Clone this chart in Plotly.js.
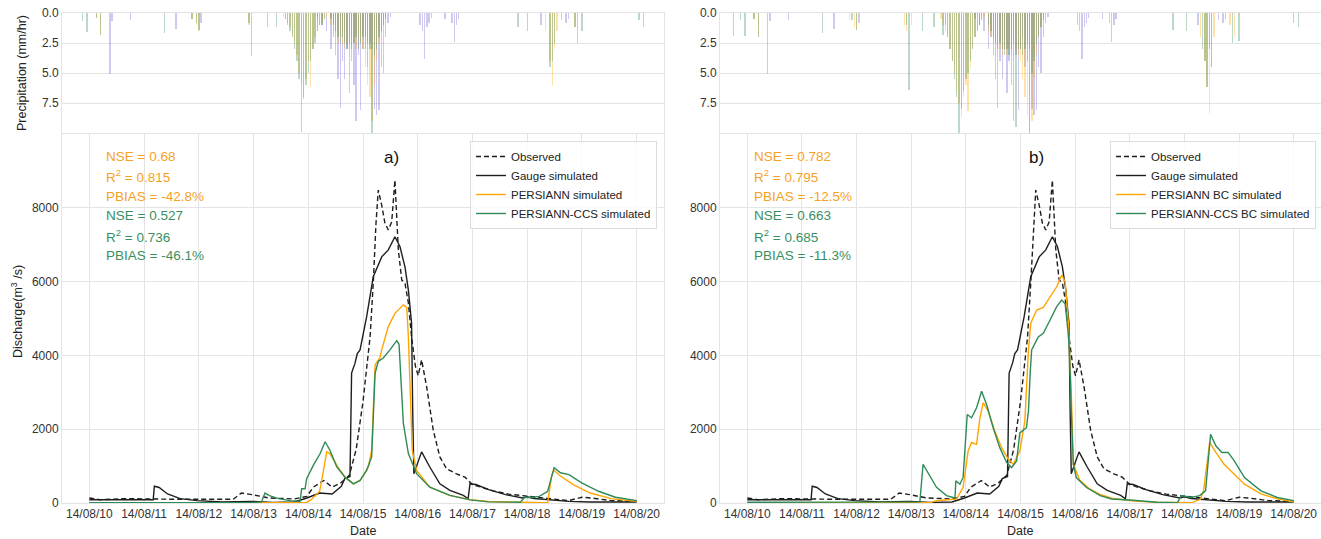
<!DOCTYPE html>
<html><head><meta charset="utf-8">
<script src="https://cdn.plot.ly/plotly-3.0.1.min.js"></script>
<style>html,body{margin:0;padding:0;background:#fff}#chart{width:1321px;height:539px}</style>
</head><body><div id="chart"></div>
<script>
// ---------- discharge data (hours since 2014-08-10 00:00, m3/s) ----------
const obsH = [0,4.6,15.8,27.8,39.8,63,66.7,71.3,78.8,89.9,95.4,98.2,102.8,106.5,110.3,114,117,120,122.3,123.1,124.5,125.7,126.7,128.2,129.6,131.1,132.6,134,135.5,137,138.4,139.9,141.3,143,144.2,145.7,147.9,150.8,153.7,156.6,161,164.7,168,172,177,184,193,201,210,216,220,229,240];
const obsV = [136,90,118,100,100,100,270,227,136,110,180,430,610,430,545,750,1450,2750,3950,4500,5960,7580,8480,8075,7590,7400,7620,8750,6860,6040,5960,5420,4500,3700,3450,3880,3155,1975,1250,930,790,700,500,420,330,240,180,118,64,155,136,64,45];

const gaugeH = [0,28,28.5,30.6,34.3,39.8,47.2,58.3,71.3,80.5,89.9,95.4,101,106.5,110.5,112,114.3,115,116.5,117.5,118.7,121.6,124.5,128.2,131.1,134,136.2,138.4,139.9,141.3,141.8,142.3,145.7,149.3,153.7,158.1,164,166.1,166.9,169.5,175.1,182.5,190,192,195,201,210.3,219.6,240];
const gaugeV = [90,90,455,420,245,118,64,27,45,18,27,136,270,245,450,660,720,3520,3790,4050,4150,5050,6130,6670,6860,7215,6950,6400,5770,4870,2500,795,1385,975,520,340,205,115,520,500,364,227,136,170,120,90,45,27,27];

const persH = [0,60,95,97.3,101,101.9,104.1,105.5,108.5,112.1,115.8,118.7,122.3,123.8,125.3,127.4,128.2,131.1,134,137.7,139.2,139.9,140.8,141.6,143.5,149.3,158,167,175,190,201,202.8,203.8,206.6,212.2,219.6,228.8,240];
const persV = [5,5,5,90,320,610,1385,1340,1020,700,520,610,975,1430,3750,3930,4150,4780,5140,5370,5300,4500,2500,1430,885,430,205,90,40,10,5,770,880,730,500,270,118,45];

const ccsH = [0,70,75.5,77,79,83,88,92.4,93.1,94.6,95.3,98.2,101.2,103.4,105.5,108.5,112.1,115.8,118.7,121.6,123.8,125.3,126.7,128.9,131.8,134.8,135.8,136.6,137.7,139.9,143.5,149.3,158.1,166.9,175,189,190.9,193.6,197.3,201,203.8,206.6,210.3,215.9,223.3,230.7,240];
const ccsV = [5,5,30,270,200,120,64,40,385,385,660,1020,1340,1660,1430,980,700,520,610,885,1250,3520,3840,3930,4150,4400,4300,3520,2160,1340,795,430,205,86,30,20,155,150,180,318,955,820,770,545,318,155,64];

const persBcH = [0,80.2,83.1,91.9,94.8,97,98.5,100.7,102.2,103.6,105.8,108.7,111.7,114.6,116.8,119.7,121.9,122.8,123.5,124.5,127.1,130,133,135.9,138.1,139.6,141,142.3,143.2,146,150,155,160,170,180,195,199,200.4,203.1,205.8,209.4,213,218.4,225.6,232.8,240];
const persBcV = [5,5,63,108,425,1410,1640,1590,2310,2720,2490,1950,1500,1190,1050,1410,2220,3480,4150,4870,5230,5300,5590,5860,6180,6000,4900,3000,1050,620,400,230,130,50,20,5,100,330,1640,1370,1050,830,510,245,110,30];

const ccsBcH = [0,75.8,77.2,79.4,83.1,87.5,91.2,91.6,93.4,94.8,96.6,98.5,100.7,102.9,105.1,108,110.9,113.9,116.1,118.3,119.7,122.6,123.5,124.3,124.9,127.8,130,133,135.9,138.1,139.6,140.8,141.5,142.3,143.2,144.5,149,155,160,168,180,189,190.6,195.1,198.7,201.3,203.5,205.8,208.5,211.2,213.9,218.4,225.6,232.8,240];
const ccsBcV = [20,30,1050,830,425,200,135,600,510,700,2400,2310,2580,3030,2670,2040,1500,1100,960,1140,1900,2040,2500,3570,4150,4500,4600,4960,5320,5500,5400,4690,4150,2500,1050,690,420,200,110,80,20,10,200,150,200,330,1860,1550,1370,1370,1140,690,330,150,63];

// ---------- precipitation data (hour, mm/hr) ----------
const gaugeRainH = [9,10,18,38,49,100,102,104,106,107,108,109,110,111,112,113,114,115,116,117,118,119,120,121,122,123,124,125,126,127,128,129,130,131,132,145,146,147,148,149,150,156,159,160,161,162,198,207,209,210];
const gaugeRainV = [5.1,0.7,0.6,1.3,0.8,0.5,1.0,1.5,3.0,2.0,3.5,5.5,7.9,4.0,5.5,3.0,6.7,4.0,6.0,9.0,3.5,8.1,3.0,2.0,4.5,2.5,3.0,8.0,8.5,8.1,4.5,5.0,2.0,0.8,0.3,1.0,1.5,3.8,1.2,0.8,0.4,0.5,0.8,2.4,1.0,0.5,1.0,0.6,0.8,0.5];

const persRainH = [3,5,45,47,48,70,85,86,87,88,89,90,91,92,93,94,95,96,97,98,99,100,101,102,103,104,106,107,108,109,110,111,112,113,114,115,116,117,118,119,120,121,122,123,124,125,126,127,128,129,130,200,202,203,204,205,213];
const persRainV = [0.4,1.8,0.5,1.0,1.5,1.0,0.3,0.5,0.8,1.2,2.0,2.5,3.5,5.0,6.0,7.0,5.5,4.0,6.2,3.0,2.0,1.5,1.0,0.8,0.5,0.3,1.0,1.5,2.0,2.5,2.0,2.5,3.0,2.5,3.0,2.0,2.5,3.0,2.0,2.5,3.0,4.5,6.0,7.0,9.0,6.0,4.0,2.5,1.5,1.0,0.5,1.5,4.0,6.1,3.0,1.5,1.2];

const ccsRainH = [-3,-1,3,5,33,45,47,48,70,71,78,82,86,87,88,89,90,91,92,93,94,95,96,97,98,99,100,101,102,103,106,107,108,109,110,111,112,113,114,115,116,117,118,119,120,121,122,123,124,125,126,127,128,129,130,188,192,202,203,204,213,214,216,241,243];
const ccsRainV = [0.7,1.6,0.4,1.8,1.7,0.5,0.8,1.4,0.8,3.6,1.2,1.2,0.5,1.0,1.5,2.0,3.0,4.0,5.5,9.9,7.2,6.0,5.0,4.0,3.0,2.5,1.5,1.0,1.0,0.5,0.5,1.0,1.5,2.0,2.5,2.0,2.5,3.0,2.5,3.0,2.5,2.0,3.0,2.5,2.0,3.0,2.5,3.0,10.0,3.5,3.0,2.0,1.5,1.0,0.5,1.2,1.5,4.5,4.0,2.5,1.2,2.5,1.5,0.6,1.2];

const persBcRainH = [3,5,45,47,48,69,70,72,85,86,87,88,89,90,91,92,93,94,95,96,97,98,99,100,101,102,103,104,106,107,108,109,110,111,112,113,114,115,116,117,118,119,120,121,122,123,124,125,126,127,128,129,130,199,201,202,203,204,205,212,214];
const persBcRainV = [0.5,2.0,0.6,1.2,1.4,1.0,1.5,1.0,0.5,1.0,1.5,2.0,3.0,4.0,5.0,6.5,7.5,8.7,7.0,6.0,8.2,4.5,3.0,2.0,1.5,1.0,0.6,0.4,1.5,2.0,2.5,3.0,2.5,3.0,3.5,3.0,3.5,3.0,3.5,4.0,3.0,3.5,4.0,5.5,7.0,8.5,9.9,9.0,5.3,3.5,2.0,1.2,0.6,2.0,4.0,6.2,8.3,4.5,2.0,1.0,2.0];

const ccsBcRainH = [-6,-3,-1,3,5,33,46,48,70,71,77,82,86,87,88,89,90,91,92,93,94,95,96,97,98,99,100,101,102,103,106,107,108,109,110,111,112,113,114,115,116,117,118,119,120,121,122,123,124,125,126,127,128,129,130,187,193,200,201,202,203,204,213,216,240,242];
const ccsBcRainV = [1.9,0.6,1.9,0.5,2.0,1.7,0.6,1.4,1.0,6.4,1.5,1.2,1.8,1.0,2.0,3.0,4.0,5.5,7.0,10.0,8.0,6.5,5.5,5.0,4.0,3.0,2.0,1.5,1.0,0.6,1.0,1.5,2.0,2.5,3.0,2.5,3.0,3.5,3.0,3.5,3.0,2.5,9.5,3.0,3.0,3.5,3.0,4.0,10.0,5.0,4.0,2.5,2.0,1.2,0.6,1.4,1.5,3.0,4.0,6.2,3.0,4.5,2.5,2.3,0.8,1.2];

// ---------- labels ----------
const namesA = ['Observed','Gauge simulated','PERSIANN simulated','PERSIANN-CCS simulated'];
const namesB = ['Observed','Gauge simulated','PERSIANN BC simulated','PERSIANN-CCS BC simulated'];
const statsA = ['NSE = 0.68','R<sup>2</sup> = 0.815','PBIAS = -42.8%','NSE = 0.527','R<sup>2</sup> = 0.736','PBIAS = -46.1%'];
const statsB = ['NSE = 0.782','R<sup>2</sup> = 0.795','PBIAS = -12.5%','NSE = 0.663','R<sup>2</sup> = 0.685','PBIAS = -11.3%'];
const precipTicks = [0, 2.5, 5, 7.5];
const precipTickText = ['0.0','2.5','5.0','7.5'];
const qTicks = [0, 2000, 4000, 6000, 8000];

// ---------- styling ----------
const FONT = 'Liberation Sans, Arial, sans-serif';
const C_BLACK = '#1e1e1e', C_ORANGE = '#FFA500', C_GREEN = '#2E8B57';
const C_TXT_OR = '#F5A21F', C_TXT_GR = '#3A8F5F';
const GRID = '#e4e4e4';
const BASE = Date.UTC(2014, 7, 10);
function toDate(h){ return new Date(BASE + h*3600000).toISOString().replace('T',' ').slice(0,19); }

function line(hs, vs, name, color, dash, xa, ya, lg){
  return {type:'scatter', mode:'lines', x:hs.map(toDate), y:vs, name:name,
    line:{color:color, width:1.4, dash:dash}, xaxis:xa, yaxis:ya, legend:lg, hoverinfo:'skip'};
}
function bars(hs, vs, color, xa, ya){
  return {type:'bar', x:hs.map(toDate), y:vs, width:0.6*3600000, marker:{color:color, line:{width:0}},
    xaxis:xa, yaxis:ya, showlegend:false, hoverinfo:'skip'};
}
const RAIN_G = 'rgba(106,90,205,0.33)', RAIN_O = 'rgba(255,165,0,0.33)', RAIN_C = 'rgba(46,139,87,0.33)';

const traces = [
  bars(gaugeRainH, gaugeRainV, RAIN_G, 'x', 'y'),
  bars(persRainH, persRainV, RAIN_O, 'x', 'y'),
  bars(ccsRainH, ccsRainV, RAIN_C, 'x', 'y'),
  bars(gaugeRainH, gaugeRainV, RAIN_G, 'x2', 'y2'),
  bars(persBcRainH, persBcRainV, RAIN_O, 'x2', 'y2'),
  bars(ccsBcRainH, ccsBcRainV, RAIN_C, 'x2', 'y2'),
  line(obsH, obsV, namesA[0], C_BLACK, '5px,3px', 'x3', 'y3', 'legend'),
  line(gaugeH, gaugeV, namesA[1], C_BLACK, 'solid', 'x3', 'y3', 'legend'),
  line(persH, persV, namesA[2], C_ORANGE, 'solid', 'x3', 'y3', 'legend'),
  line(ccsH, ccsV, namesA[3], C_GREEN, 'solid', 'x3', 'y3', 'legend'),
  line(obsH, obsV, namesB[0], C_BLACK, '5px,3px', 'x4', 'y4', 'legend2'),
  line(gaugeH, gaugeV, namesB[1], C_BLACK, 'solid', 'x4', 'y4', 'legend2'),
  line(persBcH, persBcV, namesB[2], C_ORANGE, 'solid', 'x4', 'y4', 'legend2'),
  line(ccsBcH, ccsBcV, namesB[3], C_GREEN, 'solid', 'x4', 'y4', 'legend2')
];

const W = 1321, H = 539;
const DL = [62/W, 664/W], DR = [720/W, 1];
const DT = [1-133/H, 1-13/H], DB = [1-503/H, 1-134/H];
const XR = ['2014-08-09 12:00:00', '2014-08-20 12:00:00'];
const tickFont = {family:FONT, size:12, color:'#333'};

function topX(dom, anchor){ return {domain:dom, anchor:anchor, type:'date', range:XR, showticklabels:false,
  showgrid:false, zeroline:false, showline:true, mirror:true, linecolor:GRID, ticks:''}; }
function topY(anchor){ return {domain:DT, anchor:anchor, range:[10,0], tickvals:precipTicks, ticktext:precipTickText,
  showgrid:true, gridcolor:GRID, zeroline:false, showline:true, mirror:true, linecolor:GRID, ticks:'', tickfont:tickFont}; }
function botX(dom, anchor){ return {domain:dom, anchor:anchor, type:'date', range:XR, tickformat:'%y/%m/%d',
  tick0:'2014-08-10', dtick:86400000, showgrid:true, gridcolor:GRID, zeroline:false, showline:true, mirror:true,
  linecolor:GRID, ticks:'', tickfont:tickFont}; }
function botY(anchor){ return {domain:DB, anchor:anchor, range:[0,10000], tickvals:qTicks,
  showgrid:true, gridcolor:GRID, zeroline:false, showline:true, mirror:true, linecolor:GRID, ticks:'', tickfont:tickFont}; }

const annotations = [];
const statY = [156.7, 176.4, 196.2, 215.9, 235.5, 255.2];
function addStats(list, xpx){
  list.forEach((t, i) => annotations.push({xref:'paper', yref:'paper', x:xpx/W, y:1-statY[i]/H,
    xanchor:'left', yanchor:'middle', text:t, showarrow:false,
    font:{family:FONT, size:13.5, color: i < 3 ? C_TXT_OR : C_TXT_GR}}));
}
addStats(statsA, 104);
addStats(statsB, 752);
function label(text, xpx, ypx, size, angle, color){
  annotations.push({xref:'paper', yref:'paper', x:xpx/W, y:1-ypx/H, xanchor:'center', yanchor:'middle',
    text:text, textangle:angle, showarrow:false, font:{family:FONT, size:size, color:color}});
}
label('a)', 391, 157, 17, 0, '#111');
label('b)', 1036, 157, 17, 0, '#111');
label('Precipitation (mm/hr)', 22, 73, 12.5, -90, '#222');
label('Discharge(m<sup>3</sup> /s)', 17, 312, 12.5, -90, '#222');
label('Date', 363, 531, 12.5, 0, '#222');
label('Date', 1020, 531, 12.5, 0, '#222');

const legendStyle = {bgcolor:'rgba(255,255,255,0.85)', bordercolor:'#dcdcdc', borderwidth:1,
  font:{family:FONT, size:11.5, color:'#222'}, itemwidth:30, tracegroupgap:0, yanchor:'top', xanchor:'right'};

const layout = {
  width:W, height:H, margin:{l:0, r:0, t:0, b:0}, paper_bgcolor:'#fff', plot_bgcolor:'#fff',
  barmode:'overlay', bargap:0, showlegend:true,
  font:{family:FONT, size:12, color:'#333'},
  xaxis: topX(DL, 'y'), yaxis: topY('x'),
  xaxis2: topX(DR, 'y2'), yaxis2: topY('x2'),
  xaxis3: botX(DL, 'y3'), yaxis3: botY('x3'),
  xaxis4: botX(DR, 'y4'), yaxis4: botY('x4'),
  legend: Object.assign({x:657/W, y:1-141/H}, legendStyle),
  legend2: Object.assign({x:1316/W, y:1-141/H}, legendStyle),
  annotations: annotations
};

Plotly.newPlot('chart', traces, layout, {staticPlot:true, displayModeBar:false});
</script>
</body></html>
